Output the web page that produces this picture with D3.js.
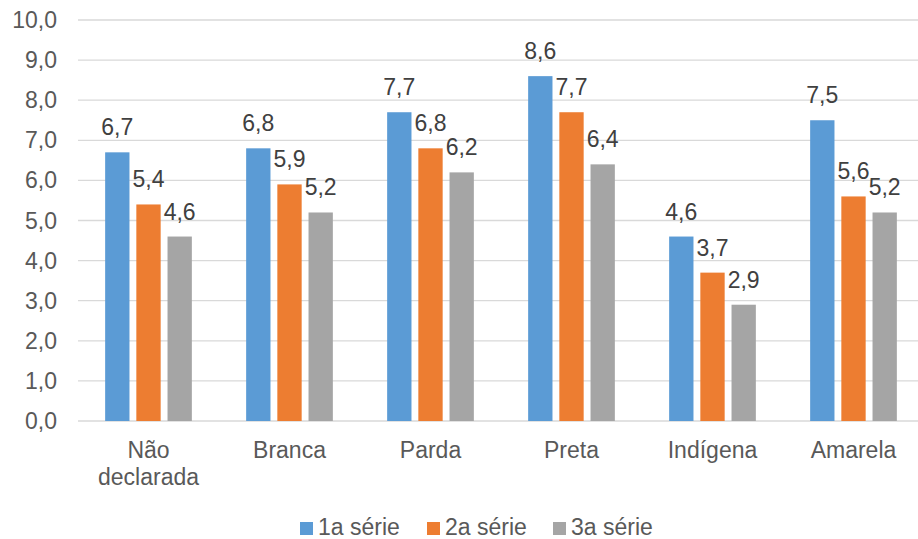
<!DOCTYPE html>
<html><head><meta charset="utf-8">
<script src="https://cdn.jsdelivr.net/npm/d3@7"></script>
<style>body{margin:0;background:#fff}svg{display:block}text{font-family:"Liberation Sans",Arial,sans-serif}</style>
</head><body>
<svg id="c" width="918" height="539"></svg>
<script>
const categories = ["Não declarada","Branca","Parda","Preta","Indígena","Amarela"];
const seriesNames = ["1a série","2a série","3a série"];
const serie1 = [6.7, 6.8, 7.7, 8.6, 4.6, 7.5];
const serie2 = [5.4, 5.9, 6.8, 7.7, 3.7, 5.6];
const serie3 = [4.6, 5.2, 6.2, 6.4, 2.9, 5.2];
const yTicks = [0,1,2,3,4,5,6,7,8,9,10];
const colors = ["#5B9BD5","#ED7D31","#A5A5A5"];

(function(){
const series = [serie1, serie2, serie3];
const svg = d3.select("#c");
const pLeft = 78, pRight = 924, pTop = 20, pBottom = 421;
const fmt = v => v.toFixed(1).replace(".", ",");
const FS = 23;

const x = d3.scaleBand().domain(categories).range([pLeft, pRight]).paddingInner(0).paddingOuter(0);
const y = d3.scaleLinear().domain([0,10]).range([pBottom, pTop]);
const groupW = 86.7;
const x1 = d3.scaleBand().domain(d3.range(3)).range([0, groupW]).paddingInner(0.22);

svg.append("g").selectAll("line").data(yTicks).join("line")
  .attr("x1", pLeft).attr("x2", 918)
  .attr("y1", d => y(d)).attr("y2", d => y(d))
  .attr("stroke", "#D9D9D9").attr("stroke-width", 1.3);

svg.append("g").selectAll("text").data(yTicks).join("text")
  .attr("x", 57).attr("y", d => y(d)).attr("dy", "0.35em")
  .attr("text-anchor", "end").attr("font-size", FS).attr("fill", "#595959")
  .text(d => fmt(d));

const groupOffset = (x.bandwidth() - groupW) / 2;
const g = svg.append("g");
categories.forEach((c, i) => {
  series.forEach((s, j) => {
    const bx = x(c) + groupOffset + x1(j);
    g.append("rect").attr("x", bx).attr("y", y(s[i]))
      .attr("width", x1.bandwidth()).attr("height", y(0) - y(s[i]))
      .attr("fill", colors[j]);
  });
});
categories.forEach((c, i) => {
  series.forEach((s, j) => {
    const bx = x(c) + groupOffset + x1(j);
    g.append("text").attr("x", bx + x1.bandwidth()/2).attr("y", y(s[i]) - 17)
      .attr("text-anchor", "middle").attr("font-size", FS).attr("fill", "#404040")
      .text(fmt(s[i]));
  });
});

categories.forEach(c => {
  const parts = c === "Não declarada" ? ["Não","declarada"] : [c];
  const t = svg.append("text").attr("text-anchor", "middle").attr("font-size", FS).attr("fill", "#595959");
  parts.forEach((p, k) => {
    t.append("tspan").attr("x", x(c) + x.bandwidth()/2).attr("y", 458 + k*27).text(p);
  });
});

const legX = [300, 427, 553];
seriesNames.forEach((n, j) => {
  svg.append("rect").attr("x", legX[j]).attr("y", 522).attr("width", 13).attr("height", 13).attr("fill", colors[j]);
  svg.append("text").attr("x", legX[j] + 18).attr("y", 535).attr("font-size", FS).attr("fill", "#595959").text(n);
});
})();
</script>
</body></html>
